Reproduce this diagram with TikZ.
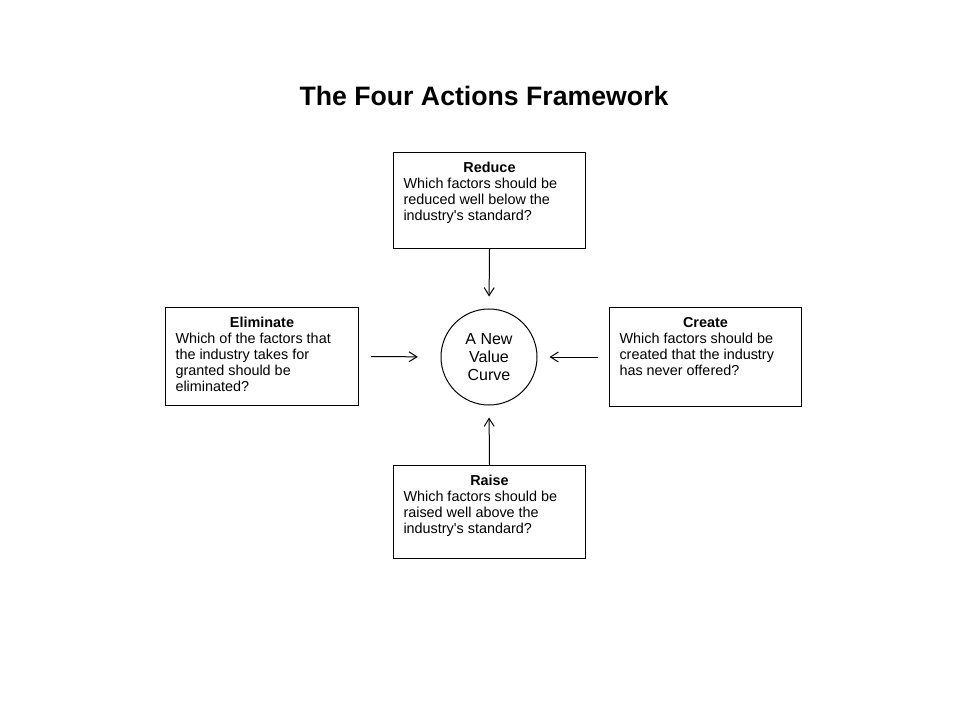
\documentclass[tikz,border=0pt]{standalone}
\usepackage{fontspec}
\setmainfont{Liberation Sans}
\usetikzlibrary{arrows.meta}
\newcommand{\framebody}[4]{\parbox[t][#2][t]{#1}{\fontsize{10.8pt}{12pt}\selectfont\centering\rule{0pt}{15pt}\textbf{#3}\par\raggedright #4\par}}
\begin{document}
\begin{tikzpicture}[x=0.75pt,y=-0.75pt,
  actbox/.style={draw,line width=0.75pt,inner xsep=7.5pt,inner ysep=0pt,anchor=north west},
  arr/.style={line width=0.75pt,-{Straight Barb[length=6pt,width=7.5pt,line width=0.75pt]}},
  valuecircle/.style={draw,circle,line width=0.75pt,minimum size=72pt,inner sep=0pt,align=center,font=\fontsize{12pt}{13.5pt}\selectfont}]
\useasboundingbox (0,0) rectangle (960,720);
\fill[white] (0,0) rectangle (960,720);
\node[font=\fontsize{20pt}{24pt}\selectfont\bfseries] (title) at (484,96) {The Four Actions Framework};
\node[actbox] (reduce) at (393,152) {\framebody{129pt}{72pt}{Reduce}{Which factors should be\\reduced well below the\\industry\textquotesingle s standard?}};
\node[actbox] (elim) at (165,307) {\framebody{129.75pt}{73.5pt}{Eliminate}{Which of the factors that\\the industry takes for\\granted should be\\eliminated?}};
\node[actbox] (create) at (609,307) {\framebody{129pt}{74.25pt}{Create}{Which factors should be\\created that the industry\\has never offered?}};
\node[actbox] (raise) at (393,465) {\framebody{129pt}{69.75pt}{Raise}{Which factors should be\\raised well above the\\industry\textquotesingle s standard?}};
\node[valuecircle] (curve) at (489,357) {A New\\Value\\Curve};
\draw[arr,shorten >=9pt] (reduce.south) -- (curve.north);
\draw[arr,shorten >=9pt] (raise.north) -- (curve.south);
\draw[arr,shorten >=17pt] ([xshift=9pt]elim.east) -- (curve.west);
\draw[arr,shorten >=9pt] ([xshift=-8pt]create.west) -- (curve.east);
\end{tikzpicture}
\end{document}
